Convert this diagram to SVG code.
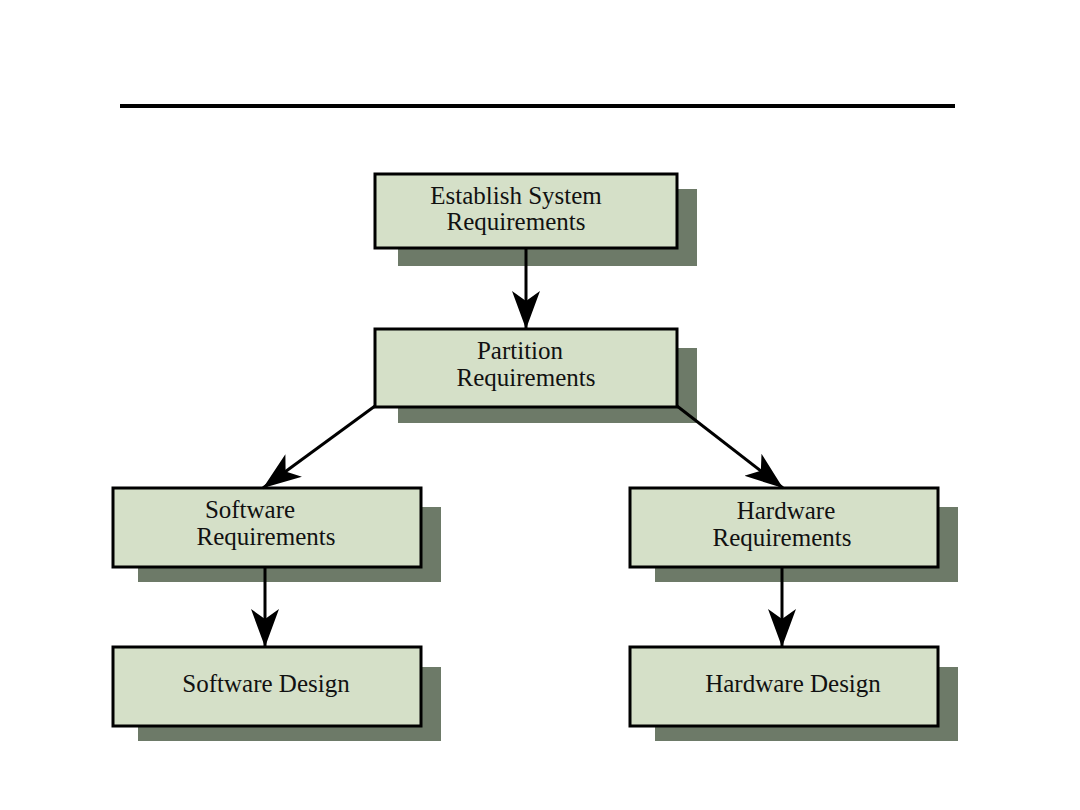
<svg xmlns="http://www.w3.org/2000/svg" width="1080" height="810" viewBox="0 0 1080 810">
<style>
.sh{fill:#6d7a68}
.bx{fill:#d5e0c8;stroke:#000;stroke-width:3}
.t{font-family:"Liberation Serif","Times New Roman",serif;font-size:25px;fill:#111;text-anchor:middle}
.c{stroke:#000;stroke-width:3;fill:none}
</style>
<defs>
<marker id="ah" markerUnits="userSpaceOnUse" viewBox="0 0 40 30" refX="38" refY="15" markerWidth="40" markerHeight="30" orient="auto">
<path d="M0,1 L38,15 L0,29 L10,15 Z" fill="#000"/>
</marker>
</defs>
<rect x="0" y="0" width="1080" height="810" fill="#fff"/>
<line x1="120" y1="106" x2="955" y2="106" stroke="#000" stroke-width="4"/>
<g id="n1">
<rect class="sh" x="398" y="189" width="299" height="77"/>
<rect class="bx" x="375" y="174" width="302" height="74"/>
<text class="t" x="516" y="204">Establish System</text>
<text class="t" x="516" y="230">Requirements</text>
</g>
<g id="n2">
<rect class="sh" x="398" y="348" width="299" height="75"/>
<rect class="bx" x="375" y="329" width="302" height="78"/>
<text class="t" x="520" y="359">Partition</text>
<text class="t" x="526" y="386">Requirements</text>
</g>
<g id="n3">
<rect class="sh" x="138" y="507" width="303" height="75"/>
<rect class="bx" x="113" y="488" width="308" height="79"/>
<text class="t" x="250" y="518">Software</text>
<text class="t" x="266" y="545">Requirements</text>
</g>
<g id="n4">
<rect class="sh" x="655" y="507" width="303" height="75"/>
<rect class="bx" x="630" y="488" width="308" height="79"/>
<text class="t" x="786" y="519">Hardware</text>
<text class="t" x="782" y="546">Requirements</text>
</g>
<g id="n5">
<rect class="sh" x="138" y="667" width="303" height="74"/>
<rect class="bx" x="113" y="647" width="308" height="79"/>
<text class="t" x="266" y="692">Software Design</text>
</g>
<g id="n6">
<rect class="sh" x="655" y="667" width="303" height="74"/>
<rect class="bx" x="630" y="647" width="308" height="79"/>
<text class="t" x="793" y="692">Hardware Design</text>
</g>
<g id="connectors">
<line class="c" x1="526" y1="248" x2="526" y2="329" marker-end="url(#ah)"/>
<line class="c" x1="375" y1="406" x2="263" y2="488" marker-end="url(#ah)"/>
<line class="c" x1="677" y1="406" x2="783" y2="488" marker-end="url(#ah)"/>
<line class="c" x1="265" y1="567" x2="265" y2="647" marker-end="url(#ah)"/>
<line class="c" x1="782" y1="567" x2="782" y2="647" marker-end="url(#ah)"/>
</g>
</svg>
